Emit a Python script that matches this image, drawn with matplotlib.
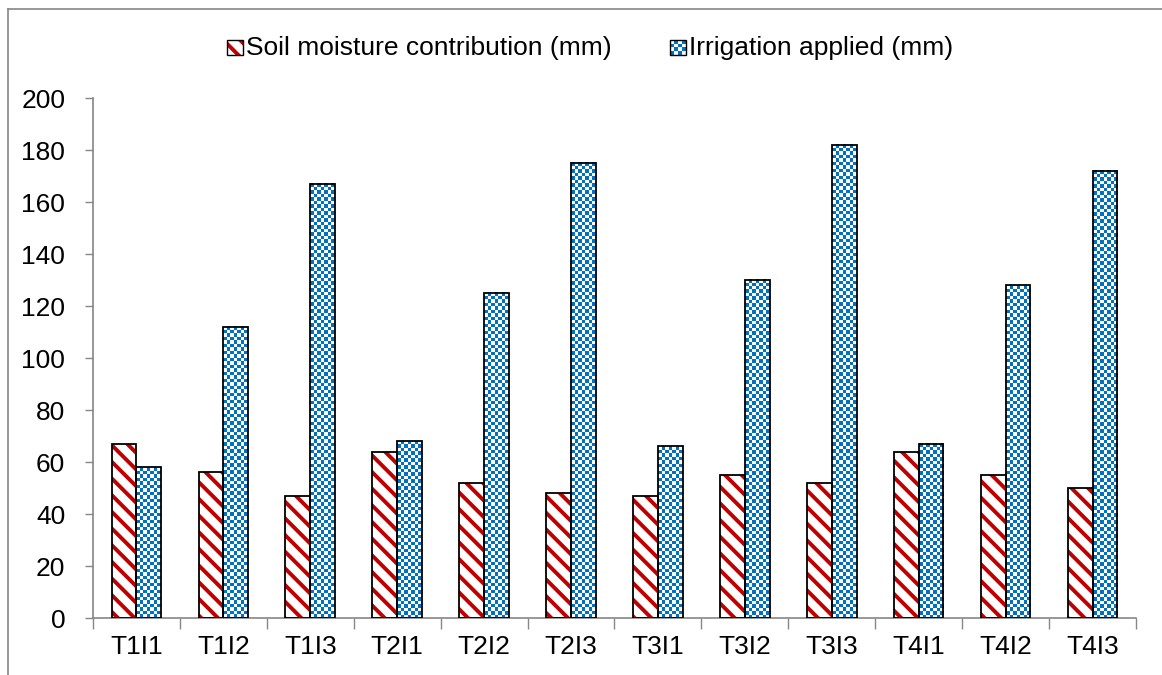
import numpy as np
from matplotlib import pyplot as plt
from matplotlib.colors import ListedColormap
from matplotlib.patches import Rectangle
from matplotlib.lines import Line2D
from matplotlib.legend_handler import HandlerBase

categories = ['T1I1', 'T1I2', 'T1I3', 'T2I1', 'T2I2', 'T2I3',
              'T3I1', 'T3I2', 'T3I3', 'T4I1', 'T4I2', 'T4I3']
soil = [67, 56, 47, 64, 52, 48, 47, 55, 52, 64, 55, 50]
irrigation = [58, 112, 167, 68, 125, 175, 66, 130, 182, 67, 128, 172]
yticks = [0, 20, 40, 60, 80, 100, 120, 140, 160, 180, 200]

RED = '#C00000'
BLUE = '#0070C0'
GRAY = '#868686'

plt.rcParams['font.family'] = ['Liberation Sans', 'DejaVu Sans']
plt.rcParams['hatch.linewidth'] = 2.8


class CheckerHandler(HandlerBase):
    # маленький шахматный квадрат для легенды
    def create_artists(self, legend, orig_handle, xd, yd, w, h, fontsize, trans):
        s = min(w, h)
        x0 = xd + (w - s) / 2
        y0 = yd + (h - s) / 2
        n = 4
        c = s / n
        arts = [Rectangle((x0, y0), s, s, facecolor='white', edgecolor='none', transform=trans)]
        for i in range(n):
            for j in range(n):
                if (i + j) % 2 == 0:
                    arts.append(Rectangle((x0 + j * c, y0 + i * c), c, c,
                                          facecolor=BLUE, edgecolor='none', transform=trans))
        arts.append(Rectangle((x0, y0), s, s, fill=False, edgecolor='black', lw=1.0, transform=trans))
        return arts


class HatchHandler(HandlerBase):
    def create_artists(self, legend, orig_handle, xd, yd, w, h, fontsize, trans):
        s = min(w, h)
        x0 = xd + (w - s) / 2
        y0 = yd + (h - s) / 2
        r1 = Rectangle((x0, y0), s, s, facecolor='white', edgecolor=RED, hatch='\\\\', lw=0, transform=trans)
        r2 = Rectangle((x0, y0), s, s, fill=False, edgecolor='black', lw=1.0, transform=trans)
        return [r1, r2]


fig = plt.figure(figsize=(11.62, 6.75), dpi=100)
ax = fig.add_axes([0.080, 0.0844, 0.8976, 0.7704])

x = np.arange(len(categories))
w = 0.285

ax.set_xlim(-0.5, len(categories) - 0.5)
ax.set_ylim(0, 200)

# красные столбцы со штриховкой
ax.bar(x - w / 2, soil, w, facecolor='white', edgecolor=RED, hatch='\\\\', linewidth=0, zorder=2)
ax.bar(x - w / 2, soil, w, fill=False, edgecolor='black', linewidth=1.3, zorder=3)

# синие столбцы в клетку
cell = 3.5
cmap = ListedColormap(['white', BLUE])
fig.canvas.draw()
for xi, v in zip(x, irrigation):
    x0, x1 = xi, xi + w
    p0 = ax.transData.transform((x0, 0))
    p1 = ax.transData.transform((x1, v))
    ncols = max(1, int(round((p1[0] - p0[0]) / cell)))
    nrows = max(1, int(round((p1[1] - p0[1]) / cell)))
    checker = np.indices((nrows, ncols)).sum(axis=0) % 2
    ax.imshow(checker, cmap=cmap, extent=[x0, x1, 0, v], aspect='auto',
              interpolation='nearest', zorder=2, origin='lower')
ax.bar(x + w / 2, irrigation, w, fill=False, edgecolor='black', linewidth=1.3, zorder=3)

ax.set_xlim(-0.5, len(categories) - 0.5)
ax.set_ylim(0, 200)

ax.set_xticks(x)
ax.set_xticklabels(categories)
ax.set_xticks(np.arange(-0.5, len(categories)), minor=True)
ax.tick_params(axis='x', which='major', length=0, labelsize=19, pad=12)
ax.tick_params(axis='x', which='minor', length=8, width=1, color=GRAY)
ax.set_yticks(yticks)
ax.tick_params(axis='y', length=6, width=1, color=GRAY, labelsize=19, pad=14)

for side in ['top', 'right']:
    ax.spines[side].set_visible(False)
for side in ['left', 'bottom']:
    ax.spines[side].set_color(GRAY)
    ax.spines[side].set_linewidth(1.2)

h1 = Rectangle((0, 0), 1, 1)
h2 = Line2D([], [])
fig.legend([h1, h2], ['Soil moisture contribution (mm)', 'Irrigation applied (mm)'],
           handler_map={h1: HatchHandler(), h2: CheckerHandler()},
           loc='center', bbox_to_anchor=(0.508, 0.929), ncol=2, frameon=False,
           fontsize=19, handlelength=0.6, handleheight=0.6, handletextpad=0.12,
           columnspacing=2.2)

# рамка диаграммы
fig.add_artist(Line2D([8 / 1162, 1], [1 - 9 / 675, 1 - 9 / 675], color=GRAY, lw=1.2))
fig.add_artist(Line2D([8 / 1162, 8 / 1162], [0, 1 - 9 / 675], color=GRAY, lw=1.2))

fig.savefig('out.png', dpi=100)
